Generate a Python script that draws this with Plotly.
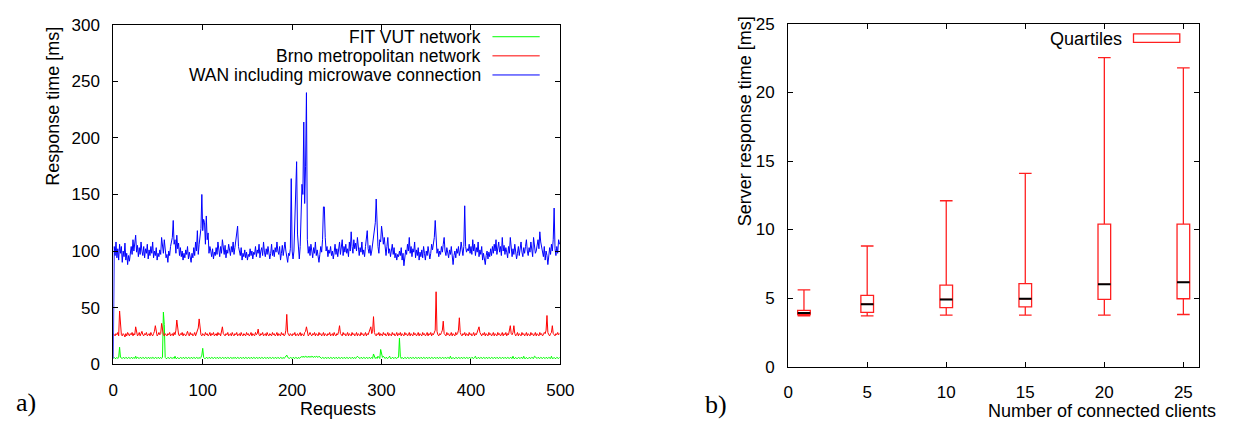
import plotly.graph_objects as go

# ---------------- data: panel a) ----------------
fit_vut_str = """
5 6 5 5 6 5 6 15 6 5 5 6 5 5 6 5 5 6 5 5
6 5 5 6 5 7 5 6 5 5 6 5 5 6 5 5 6 5 5 6
5 5 6 5 6 5 5 6 5 5 6 5 5 6 5 6 46 35 6 5
5 6 5 5 6 5 5 6 5 7 5 5 6 5 5 6 5 5 6 5
5 6 5 5 6 5 5 6 5 5 6 5 5 6 5 5 6 5 6 8
14 6 5 5 6 5 5 6 5 5 6 5 5 6 5 5 6 5 5 6
5 5 6 5 5 6 5 5 6 5 5 6 5 5 6 5 6 5 5 6
5 5 6 5 5 6 5 5 6 5 5 6 5 5 6 5 5 6 5 5
6 5 5 6 5 5 6 5 5 6 5 5 6 5 5 6 5 5 6 5
5 6 5 5 6 5 5 6 5 5 6 5 6 7 8 6 5 5 6 5
5 6 5 5 6 5 5 6 5 6 6 7 6 7 6 7 6 6 7 6
7 6 7 6 6 7 6 7 6 6 7 6 6 5 6 5 5 6 5 5
6 5 5 6 5 5 6 5 5 6 5 5 6 5 5 6 5 5 6 5
5 6 5 5 6 5 5 6 5 5 6 5 6 7 6 5 5 6 5 5
6 5 5 6 5 5 6 5 5 6 5 9 6 5 6 5 7 6 5 13
8 6 7 6 5 6 5 5 6 7 5 5 6 5 5 6 5 5 6 6
23 7 5 6 5 5 6 5 5 6 5 5 6 5 5 6 5 5 6 5
5 6 5 5 6 5 5 6 5 5 6 5 5 6 5 5 6 5 5 6
5 5 6 5 5 6 5 5 6 5 5 6 5 5 6 5 5 7 5 5
6 5 5 6 5 5 6 5 5 6 5 5 6 5 5 6 5 5 6 5
5 6 5 5 6 7 5 5 6 5 5 6 5 5 6 5 5 6 5 5
6 5 5 6 5 5 6 5 5 6 5 5 6 5 5 6 5 5 6 5
5 6 5 5 6 5 5 7 5 5 6 5 5 6 5 5 6 5 5 7
5 5 6 5 5 6 5 5 6 5 5 7 6 5 5 6 5 5 6 5
5 6 5 5 6 5 5 6 5 5 7 5 5 6 5 5 6 5 5 6
"""

brno_str = """
27 26 25 27 26 28 25 47 30 26 25 27 26 24 27 25 28 26 25 27
26 28 25 27 26 33 27 25 26 28 25 27 29 26 25 27 26 28 25 26
27 25 28 26 25 27 29 34 27 25 26 28 26 27 36 28 26 25 27 26
25 27 26 28 25 26 27 25 28 26 30 39 28 26 25 27 26 28 25 27
26 25 27 29 26 25 28 26 27 25 26 28 25 27 29 32 40 28 26 25
27 26 25 28 26 27 25 26 28 25 27 26 28 25 26 27 25 28 26 27
25 28 33 27 26 25 27 26 28 25 26 27 25 28 26 25 27 26 28 25
26 27 25 28 26 25 27 26 25 28 26 27 25 26 28 25 27 26 25 28
26 27 31 26 25 27 26 28 25 26 27 25 28 26 25 27 26 25 28 26
27 25 26 28 25 27 26 25 28 26 27 25 26 30 44 28 26 25 27 26
25 27 26 28 25 26 27 25 26 28 25 27 26 25 28 29 33 27 25 26
28 26 25 27 26 28 25 27 26 25 28 26 27 25 26 28 25 27 26 25
27 26 28 25 26 27 25 28 26 25 27 26 29 34 27 26 25 28 26 27
25 26 28 25 27 26 25 28 26 27 25 26 28 25 27 26 25 28 26 27
25 26 28 25 27 26 28 30 33 27 29 42 28 26 25 27 26 28 25 27
26 25 28 26 27 25 26 28 25 27 26 25 28 26 27 25 26 28 25 27
26 28 25 27 26 25 28 26 27 25 26 28 25 27 26 25 28 26 27 25
26 28 25 27 26 25 28 26 27 25 26 28 25 27 26 28 25 27 26 28
30 64 29 26 25 27 26 28 30 38 27 26 25 28 26 27 25 26 28 25
27 26 25 28 26 27 30 41 28 26 25 27 26 28 25 27 26 25 28 26
27 25 26 28 25 27 26 28 30 33 28 26 25 27 26 28 25 27 26 25
28 26 27 25 26 28 25 27 26 25 28 26 27 25 26 28 25 27 26 28
25 27 26 29 34 27 26 28 34 27 25 26 28 25 27 26 25 28 26 27
25 26 28 25 27 26 25 28 26 27 25 26 28 25 27 26 25 28 26 27
25 26 28 27 30 43 28 26 25 27 28 34 27 26 25 27 26 28 26 27
"""

wan_str = """
5 104 96 108 94 102 92 106 98 104 90 100 95 107 92 98 88 96 91 99
104 97 110 100 108 114 99 105 95 103 97 108 100 96 104 94 102 98 106 93
101 96 104 98 108 94 100 96 103 92 98 95 101 97 112 104 98 110 100 94
97 90 100 96 104 108 112 127 106 110 98 114 102 107 96 103 95 100 92 98
94 101 97 104 93 99 95 90 98 94 103 96 108 100 118 97 106 112 120 150
118 128 125 106 131 110 116 98 104 100 95 102 93 99 96 103 97 108 101 95
104 98 110 100 97 105 94 101 98 106 100 96 104 99 108 97 103 110 114 122
104 100 96 103 92 98 95 101 94 99 92 97 95 102 96 100 93 99 97 104
95 101 98 106 94 100 103 96 108 99 95 102 97 104 100 93 98 106 96 101
95 103 99 108 100 97 104 92 98 105 96 101 108 100 95 90 98 96 102 164
100 93 100 130 168 179 115 96 93 104 150 159 150 214 142 175 240 110 98 104
96 106 100 94 103 98 108 96 101 92 90 97 104 99 110 139 139 112 100 104
95 101 98 104 96 100 93 99 106 97 102 95 100 108 97 103 110 96 104 99
106 98 102 95 108 100 117 104 98 110 102 107 100 112 104 96 103 99 108 97
101 95 104 110 118 102 98 105 96 100 106 110 116 125 146 112 104 98 110 108
122 115 106 112 100 96 104 112 98 102 95 100 106 97 103 94 98 92 97 95
100 96 103 92 98 87 94 101 97 106 100 112 98 104 95 102 99 108 94 101
96 103 92 99 95 101 94 104 98 92 100 96 104 99 93 98 106 101 108 112
127 106 98 102 95 100 97 104 99 106 112 100 96 103 98 94 101 97 104 92
88 96 100 94 102 98 104 96 100 108 101 96 104 140 104 99 102 100 106 98
104 97 110 100 106 96 103 99 108 95 101 97 104 92 98 94 88 96 100 93
99 95 102 96 104 98 106 100 110 97 103 108 99 104 96 112 100 105 97 103
99 94 104 98 112 100 95 102 97 106 100 93 98 104 96 102 108 99 95 103
98 104 110 100 96 103 99 108 102 95 112 104 98 100 106 110 102 117 108 104
99 95 104 92 100 96 88 99 103 97 106 100 110 138 102 96 104 98 110 106
"""

fit_vut = [float(v) for v in fit_vut_str.split()]
brno = [float(v) for v in brno_str.split()]
wan = [float(v) for v in wan_str.split()]
assert len(fit_vut) == 500 and len(brno) == 500 and len(wan) == 500, (len(fit_vut), len(brno), len(wan))

series_names = ["FIT VUT network", "Brno metropolitan network", "WAN including microwave connection"]
series_colors = ["#00ff00", "#ff0000", "#0000ff"]

# ---------------- data: panel b) ----------------
clients = [1, 5, 10, 15, 20, 25]
whisker_low = [3.7, 3.7, 3.75, 3.75, 3.75, 3.8]
q1 = [3.8, 3.95, 4.3, 4.35, 4.9, 4.95]
median = [3.9, 4.55, 4.9, 4.95, 6.0, 6.15]
q3 = [4.1, 5.2, 5.95, 6.05, 10.4, 10.4]
whisker_high = [5.6, 8.8, 12.1, 14.1, 22.55, 21.8]

x_ticks_a = [0, 100, 200, 300, 400, 500]
y_ticks_a = [0, 50, 100, 150, 200, 250, 300]
x_ticks_b = [0, 5, 10, 15, 20, 25]
y_ticks_b = [0, 5, 10, 15, 20, 25]

W, H = 1244, 432
FONT = "Liberation Sans, Arial, sans-serif"
SERIF = "Liberation Serif, Times New Roman, serif"
FS = 18
TICK_FS = 17

def px(x):
    return x / W

def py(y):
    return 1 - y / H

fig = go.Figure()

for vals, name, col in zip([fit_vut, brno, wan], series_names, series_colors):
    fig.add_trace(go.Scatter(x=list(range(len(vals))), y=vals, mode="lines",
                             line=dict(color=col, width=1), name=name,
                             showlegend=False, xaxis="x", yaxis="y"))

box_w = 0.8
fig.add_trace(go.Box(x=clients, q1=q1, median=median, q3=q3,
                     lowerfence=whisker_low, upperfence=whisker_high,
                     width=box_w, whiskerwidth=1,
                     line=dict(color="#ff2020", width=1.3),
                     fillcolor="rgba(0,0,0,0)", showlegend=False,
                     boxpoints=False, xaxis="x2", yaxis="y2", name="Quartiles"))

mx, my = [], []
for c, m in zip(clients, median):
    mx += [c - box_w / 2, c + box_w / 2, None]
    my += [m, m, None]
fig.add_trace(go.Scatter(x=mx, y=my, mode="lines", line=dict(color="black", width=2),
                         showlegend=False, xaxis="x2", yaxis="y2", hoverinfo="skip"))

axis_common = dict(showline=True, linecolor="black", linewidth=1, mirror="allticks",
                   ticks="inside", ticklen=5, tickcolor="black", tickwidth=1,
                   showgrid=False, zeroline=False,
                   tickfont=dict(family=FONT, size=TICK_FS, color="black"))

fig.update_layout(
    width=W, height=H, autosize=False,
    margin=dict(l=0, r=0, t=0, b=0),
    paper_bgcolor="white", plot_bgcolor="white",
    showlegend=False,
    xaxis=dict(domain=[px(110), px(564)], range=[0, 500], tickvals=x_ticks_a,
               anchor="y", ticklabelstandoff=10, **axis_common),
    yaxis=dict(domain=[py(371.5), py(16.5)], range=[0, 300], tickvals=y_ticks_a,
               anchor="x", ticklabelstandoff=9, **axis_common),
    xaxis2=dict(domain=[px(795.3), px(1212.7)], range=[0, 26], tickvals=x_ticks_b,
                anchor="y2", ticklabelstandoff=10, **axis_common),
    yaxis2=dict(domain=[py(374), py(15.7)], range=[0, 25], tickvals=y_ticks_b,
                anchor="x2", ticklabelstandoff=9, **axis_common),
)

ann = []
def text(x, y, s, size=FS, xanchor="center", angle=0, family=FONT):
    ann.append(dict(x=px(x), y=py(y), xref="paper", yref="paper", text=s, showarrow=False,
                    xanchor=xanchor, yanchor="middle", textangle=angle,
                    font=dict(family=family, size=size, color="black")))

text(48, 102, "Response time [ms]", angle=-90)
text(338, 418, "Requests")
text(751, 118, "Server response time [ms]", angle=-90)
text(1232, 421, "Number of connected clients", xanchor="right")
text(21, 412, "a)", size=26, family=SERIF)
text(722, 414, "b)", size=26, family=SERIF)

shapes = []
legend_rows = [29, 49, 69]
for name, col, yy in zip(series_names, series_colors, legend_rows):
    text(485, yy, name, size=17.5, xanchor="right")
    shapes.append(dict(type="line", xref="paper", yref="paper", x0=px(495), x1=px(543),
                       y0=py(yy), y1=py(yy), line=dict(color=col, width=1)))

text(1136, 31, "Quartiles", xanchor="right")
shapes.append(dict(type="rect", xref="paper", yref="paper", x0=px(1146), x1=px(1193),
                   y0=py(35), y1=py(26), line=dict(color="#ff2020", width=1.3)))

fig.update_layout(annotations=ann, shapes=shapes)

fig.write_html("out.html", config={"displayModeBar": False},
               post_script="document.body.style.margin='0';document.body.style.overflow='hidden';")
